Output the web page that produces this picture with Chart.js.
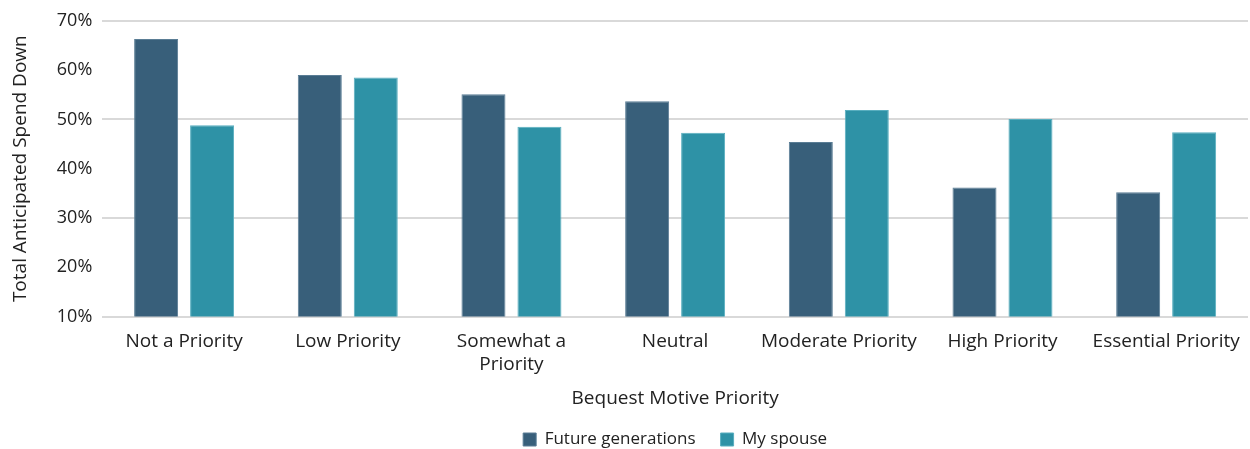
<!DOCTYPE html>
<html lang="en">
<head>
  <meta charset="UTF-8" />
  <title>Bequest Motive Priority</title>
  <script src="https://cdn.jsdelivr.net/npm/chart.js"></script>
  <style>
    html, body { margin: 0; padding: 0; background: #fff; overflow: hidden; }
    .wrap { width: 1250px; height: 458px; position: relative; }
  </style>
</head>
<body>
  <div class="wrap"><canvas id="chart"></canvas></div>
  <script>
    // Data
    const categories = [
      'Not a Priority', 'Low Priority', ['Somewhat a', 'Priority'], 'Neutral',
      'Moderate Priority', 'High Priority', 'Essential Priority'
    ];
    const futureGenerations = [66.3, 59.0, 55.1, 53.7, 45.4, 36.2, 35.2];
    const mySpouse = [48.8, 58.5, 48.5, 47.3, 51.9, 50.1, 47.4];
    const yTicks = [10, 20, 30, 40, 50, 60, 70];

    const textColor = '#222';
    const fontFamily = '"Open Sans", "DejaVu Sans", sans-serif';

    // centre the legend under the plot area rather than the whole canvas
    const legendOnPlot = {
      id: 'legendOnPlot',
      afterLayout(chart) {
        const lg = chart.legend, area = chart.chartArea;
        lg.left = area.left;
        lg.right = area.right;
        lg.width = area.right - area.left;
      }
    };

    new Chart(document.getElementById('chart'), {
      type: 'bar',
      data: {
        labels: categories,
        datasets: [
          {
            label: 'Future generations',
            data: futureGenerations,
            backgroundColor: '#385f7a',
            borderColor: '#5a7d95',
            borderWidth: 1,
            barPercentage: 0.786,
            categoryPercentage: 0.684
          },
          {
            label: 'My spouse',
            data: mySpouse,
            backgroundColor: '#2e92a6',
            borderColor: '#58aebf',
            borderWidth: 1,
            barPercentage: 0.786,
            categoryPercentage: 0.684
          }
        ]
      },
      options: {
        responsive: true,
        maintainAspectRatio: false,
        animation: false,
        layout: { padding: { top: 16, right: 2, left: 5, bottom: 0 } },
        scales: {
          x: {
            grid: { display: false },
            border: { display: false },
            ticks: { color: textColor, font: { family: fontFamily, size: 19 }, maxRotation: 0, autoSkip: false, padding: 6 },
            title: { display: true, text: 'Bequest Motive Priority', color: textColor, font: { family: fontFamily, size: 19 }, padding: { top: 5, bottom: 18 } }
          },
          y: {
            min: yTicks[0],
            max: yTicks[yTicks.length - 1],
            afterBuildTicks: axis => { axis.ticks = yTicks.map(v => ({ value: v })); },
            border: { display: false },
            grid: {
              color: ctx => (ctx.tick && (ctx.tick.value - 10) % 20 === 0 ? '#d9d9d9' : 'rgba(0,0,0,0)'),
              lineWidth: 2,
              drawTicks: false
            },
            ticks: {
              color: textColor,
              font: { family: fontFamily, size: 18 },
              padding: 10,
              callback: v => v + '%'
            },
            title: { display: true, text: 'Total Anticipated Spend Down', color: textColor, font: { family: fontFamily, size: 19 }, padding: { bottom: 15 } }
          }
        },
        plugins: {
          legend: {
            position: 'bottom',
            labels: {
              color: textColor,
              font: { family: fontFamily, size: 17 },
              boxWidth: 13,
              boxHeight: 13,
              padding: 3,
              generateLabels: chart => {
                const items = Chart.defaults.plugins.legend.labels.generateLabels(chart);
                // widen the gap between the two entries
                items[0].text = items[0].text + '     ';
                return items;
              }
            }
          },
          tooltip: { enabled: false }
        }
      },
      plugins: [legendOnPlot]
    });
  </script>
</body>
</html>
